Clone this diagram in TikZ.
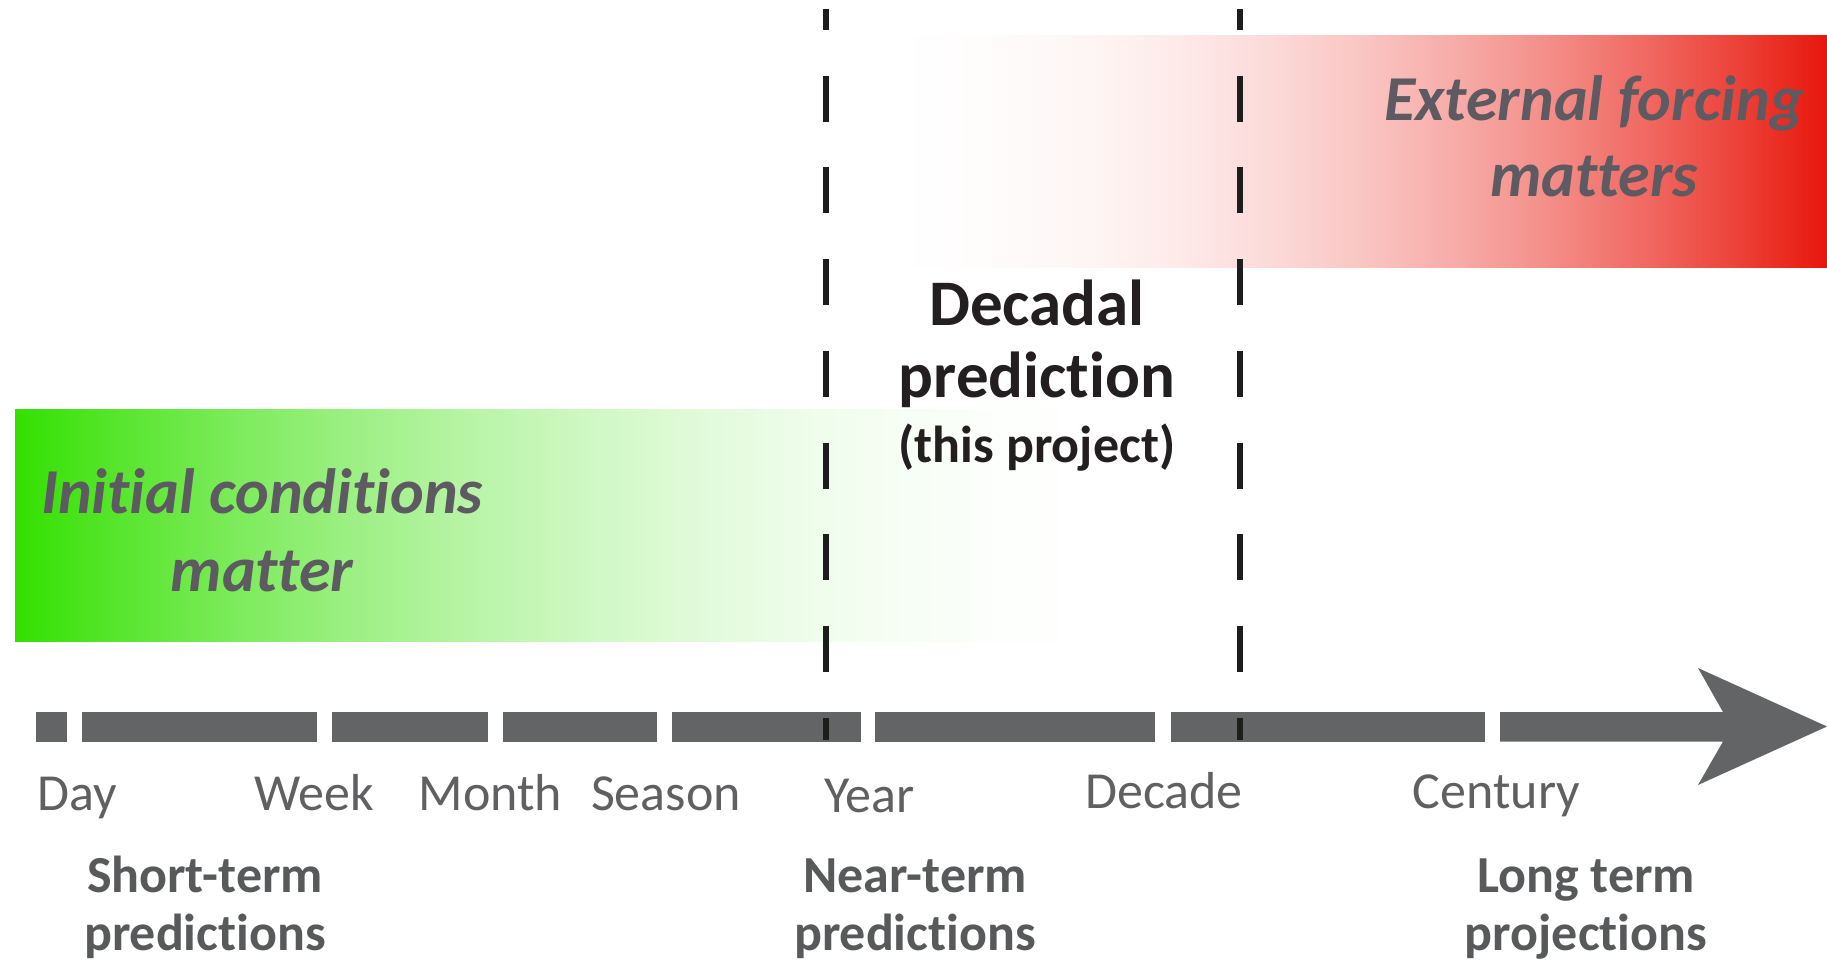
\documentclass[tikz,border=0pt]{standalone}
\usepackage{fontspec}
\setmainfont{Carlito}[Ligatures={NoCommon}]
\definecolor{barcol}{HTML}{636466}
\definecolor{axiscol}{HTML}{606062}
\definecolor{boldgray}{HTML}{58595B}
\definecolor{italgray}{HTML}{5E5A62}
\definecolor{darktext}{HTML}{231F20}
\definecolor{dashcol}{HTML}{1D1D1B}
\definecolor{gfull}{HTML}{33E000}
\definecolor{rfull}{HTML}{E8170C}
\pgfdeclarehorizontalshading{greenfade}{100bp}{color(0bp)=(gfull); color(25bp)=(gfull); color(30bp)=(gfull!81!white); color(35bp)=(gfull!64!white); color(40bp)=(gfull!49!white); color(45bp)=(gfull!36!white); color(50bp)=(gfull!25!white); color(55bp)=(gfull!16!white); color(60bp)=(gfull!9!white); color(65bp)=(gfull!4!white); color(70bp)=(gfull!1!white); color(75bp)=(white); color(100bp)=(white)}
\pgfdeclarehorizontalshading{redfade}{100bp}{color(0bp)=(white); color(25bp)=(white); color(30bp)=(rfull!1.5!white); color(35bp)=(rfull!4!white); color(40bp)=(rfull!9!white); color(45bp)=(rfull!16!white); color(50bp)=(rfull!25!white); color(55bp)=(rfull!36!white); color(60bp)=(rfull!49!white); color(65bp)=(rfull!64!white); color(70bp)=(rfull!81!white); color(75bp)=(rfull); color(100bp)=(rfull)}
\begin{document}
\begin{tikzpicture}[x=0.5pt,y=-0.5pt,
  axislabel/.style={inner sep=0pt, anchor=base, text=axiscol, font=\fontsize{26}{29}\selectfont},
  grouplabel/.style={inner sep=0pt, anchor=base, align=center, text=boldgray, font=\fontsize{26}{29}\selectfont\bfseries},
  biglabel/.style={inner sep=0pt, anchor=base, align=center, text=italgray, font=\fontsize{32}{39}\selectfont\bfseries\itshape},
  dashline/.style={draw=dashcol, line width=2.8pt, dash pattern=on 23pt off 22.85pt, dash phase=12.5pt},
  barseg/.style={fill=barcol}]
\useasboundingbox (0,0) rectangle (1827,963);
\fill[white] (0,0) rectangle (1827,963);
% gradient bands
\shade[shading=greenfade] (15,409) rectangle (1125,641);
\shade[shading=redfade] (900,36) rectangle (1827,267);
% time axis
\fill[barseg] (36,712) rectangle (67,742);
\fill[barseg] (82,712) rectangle (317,742);
\fill[barseg] (332,712) rectangle (488,742);
\fill[barseg] (503,712) rectangle (657,742);
\fill[barseg] (672,712) rectangle (861,742);
\fill[barseg] (875,712) rectangle (1155,742);
\fill[barseg] (1171,712) rectangle (1485,742);
\fill[barseg] (1500,712) -- (1723,712) -- (1698,668) -- (1827,726.5) -- (1698,785) -- (1723,741.5) -- (1500,741.5) -- cycle;
% dashed lines
\coordinate (d1top) at (826,9);
\coordinate (d1bot) at (826,740);
\coordinate (d2top) at (1240,9);
\coordinate (d2bot) at (1240,740);
\draw[dashline] (d1top) -- (d1bot);
\draw[dashline] (d2top) -- (d2bot);
% axis labels
\node[axislabel] (day) at (77.5,810) {Day};
\node[axislabel] (week) at (314,810) {Week};
\node[axislabel] (month) at (490.5,810) {Month};
\node[axislabel] (season) at (666,810) {Season};
\node[axislabel] (year) at (869.5,812) {Year};
\node[axislabel] (decade) at (1164,808) {Decade};
\node[axislabel] (century) at (1496.5,808) {Century};
% group labels (anchor base = last line)
\node[grouplabel] (short) at (205,950) {Short-term\\predictions};
\node[grouplabel] (near) at (915,950) {Near-term\\predictions};
\node[grouplabel] (long) at (1586,950) {Long term\\projections};
% big labels
\node[biglabel] (init) at (262,591) {Initial conditions\\matter};
\node[biglabel, font=\fontsize{32}{38}\selectfont\bfseries\itshape] (ext) at (1594,197) {External forcing\\matters};
\node[inner sep=0pt, anchor=base, align=center, text=darktext, font=\fontsize{32.5}{36}\selectfont\bfseries] (dec) at (1037,462) {Decadal\\prediction\\[-3.5pt]{\fontsize{26}{29}\selectfont (this project)}};
\end{tikzpicture}
\end{document}
